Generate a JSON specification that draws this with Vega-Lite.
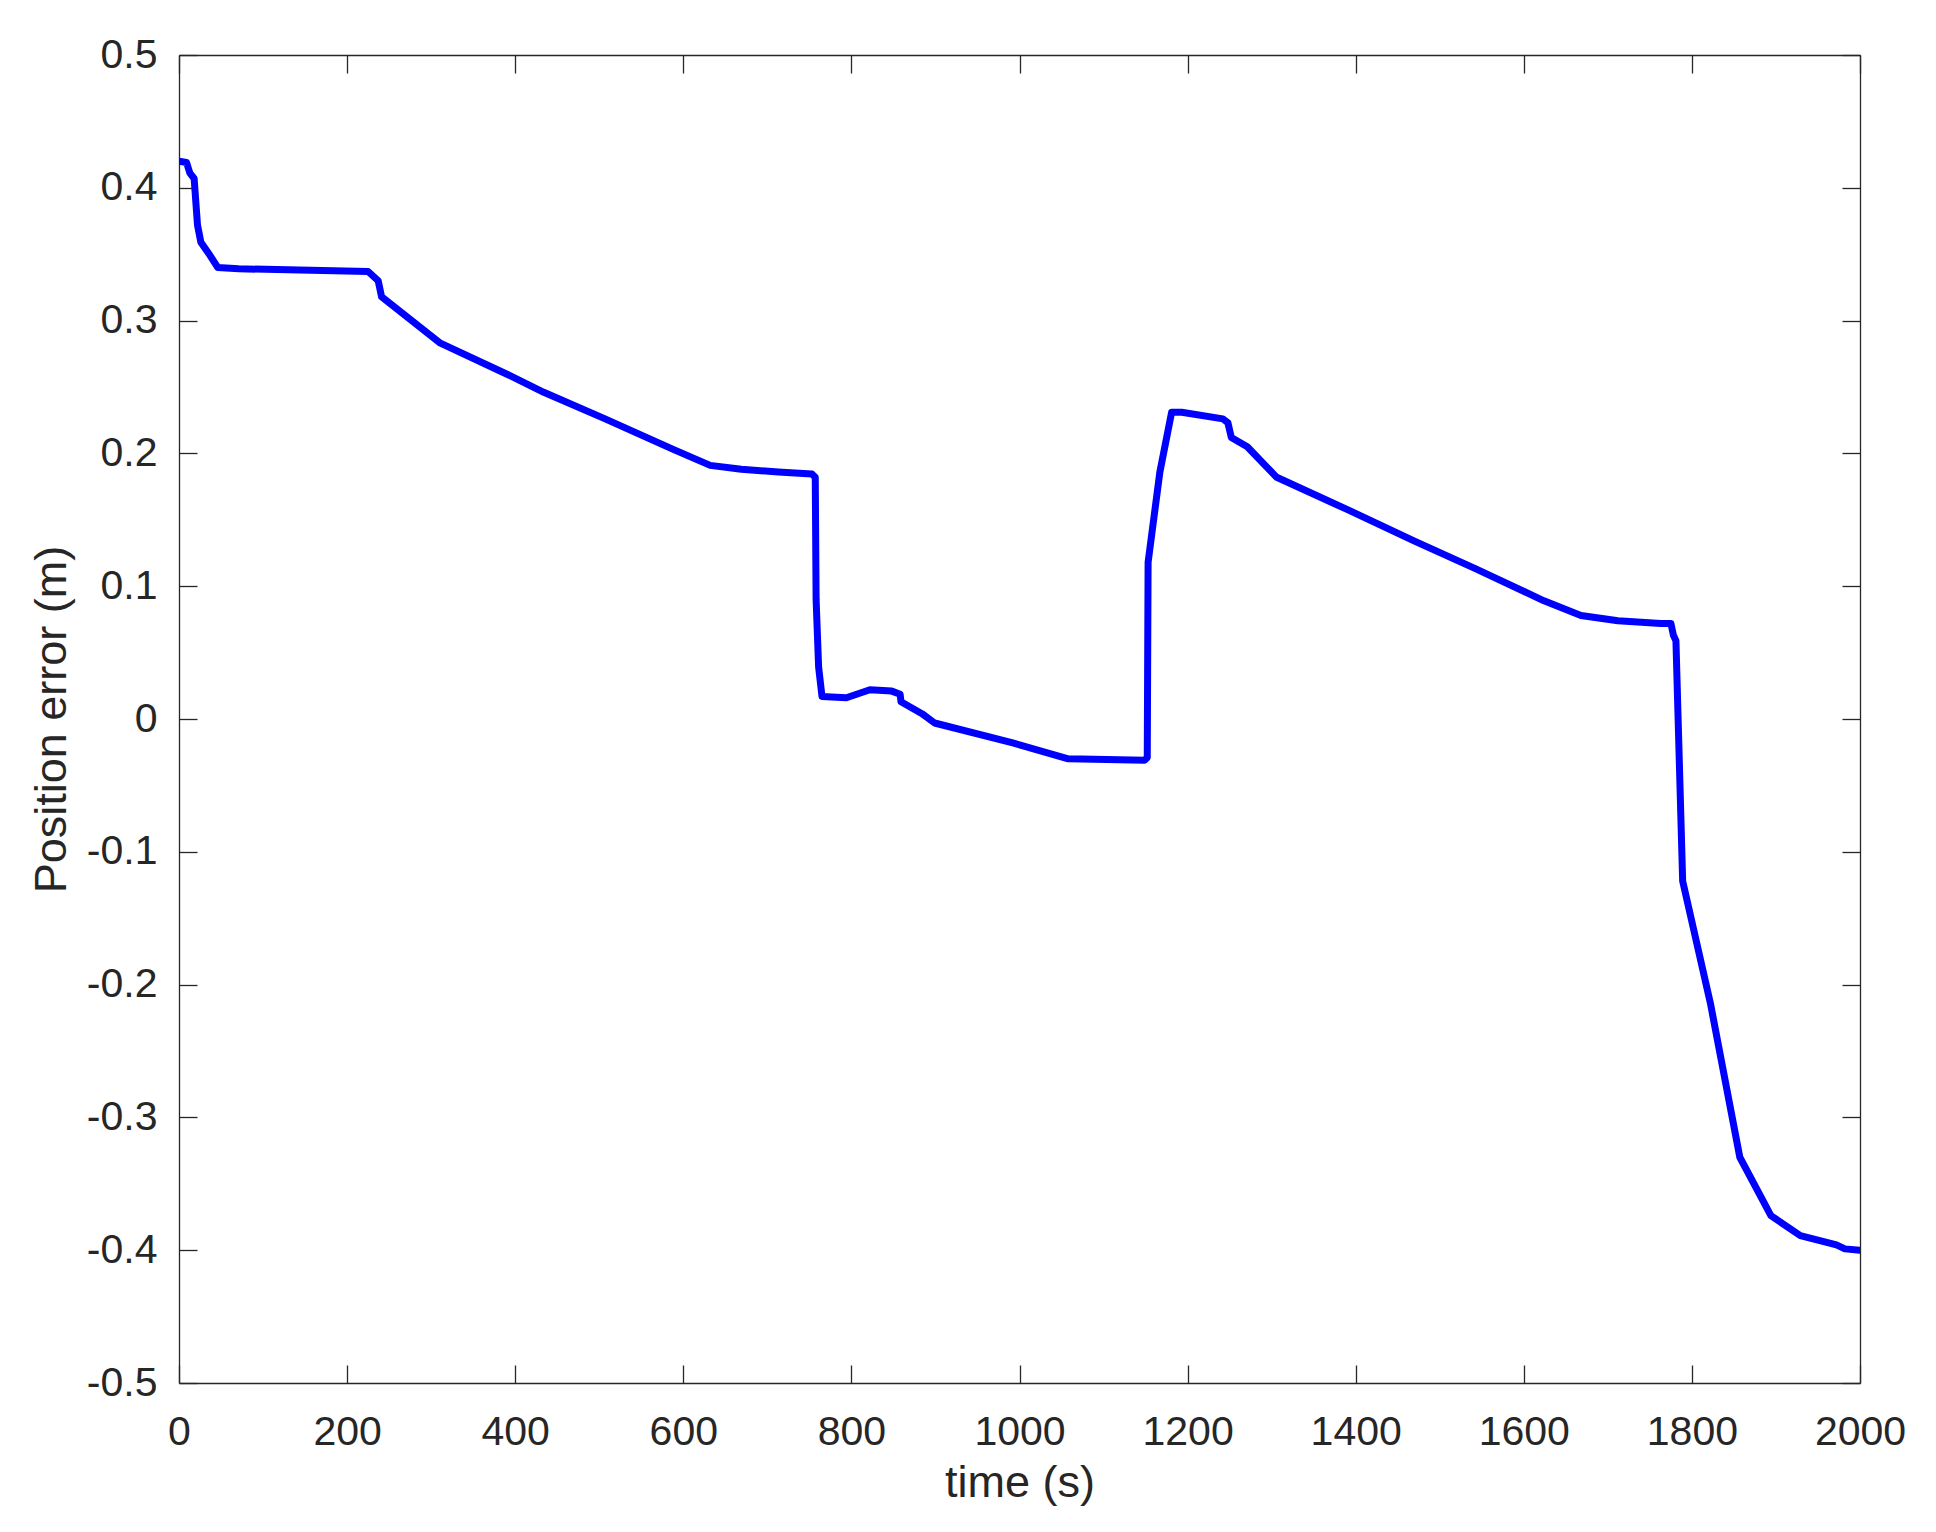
{
  "$schema": "https://vega.github.io/schema/vega-lite/v6.json",
  "width": 1681,
  "height": 1328,
  "autosize": {"type": "none"},
  "padding": {"left": 179, "top": 55, "right": 76, "bottom": 149},
  "background": "white",
  "config": {
    "view": {"stroke": null},
    "font": "Liberation Sans",
    "axis": {
      "domainColor": "#262626",
      "domainWidth": 1.3,
      "tickColor": "#262626",
      "tickWidth": 1.3,
      "tickSize": -18,
      "grid": false,
      "labelFont": "Liberation Sans",
      "labelFontSize": 41,
      "labelColor": "#262626",
      "titleFont": "Liberation Sans",
      "titleFontSize": 45,
      "titleFontWeight": "normal",
      "titleColor": "#262626"
    }
  },
  "data": {
    "values": [
      {"t": 0, "v": 0.420},
      {"t": 9, "v": 0.419},
      {"t": 13, "v": 0.411},
      {"t": 18, "v": 0.407},
      {"t": 22, "v": 0.372},
      {"t": 26, "v": 0.359},
      {"t": 37, "v": 0.349},
      {"t": 46, "v": 0.340},
      {"t": 71, "v": 0.339},
      {"t": 225, "v": 0.337},
      {"t": 237, "v": 0.330},
      {"t": 241, "v": 0.318},
      {"t": 311, "v": 0.283},
      {"t": 389, "v": 0.260},
      {"t": 434, "v": 0.246},
      {"t": 507, "v": 0.226},
      {"t": 588, "v": 0.203},
      {"t": 632, "v": 0.191},
      {"t": 669, "v": 0.188},
      {"t": 713, "v": 0.186},
      {"t": 753, "v": 0.1845},
      {"t": 757, "v": 0.182},
      {"t": 758, "v": 0.090},
      {"t": 761, "v": 0.039},
      {"t": 765, "v": 0.017},
      {"t": 794, "v": 0.016},
      {"t": 822, "v": 0.022},
      {"t": 848, "v": 0.021},
      {"t": 858, "v": 0.0186},
      {"t": 859, "v": 0.013},
      {"t": 884, "v": 0.004},
      {"t": 899, "v": -0.003},
      {"t": 992, "v": -0.018},
      {"t": 1058, "v": -0.030},
      {"t": 1149, "v": -0.031},
      {"t": 1152, "v": -0.029},
      {"t": 1153, "v": 0.118},
      {"t": 1167, "v": 0.186},
      {"t": 1181, "v": 0.231},
      {"t": 1193, "v": 0.231},
      {"t": 1242, "v": 0.226},
      {"t": 1248, "v": 0.223},
      {"t": 1252, "v": 0.212},
      {"t": 1271, "v": 0.205},
      {"t": 1306, "v": 0.182},
      {"t": 1389, "v": 0.158},
      {"t": 1470, "v": 0.134},
      {"t": 1543, "v": 0.113},
      {"t": 1624, "v": 0.089},
      {"t": 1668, "v": 0.078},
      {"t": 1712, "v": 0.074},
      {"t": 1763, "v": 0.072},
      {"t": 1775, "v": 0.072},
      {"t": 1778, "v": 0.063},
      {"t": 1781, "v": 0.059},
      {"t": 1789, "v": -0.122},
      {"t": 1822, "v": -0.214},
      {"t": 1857, "v": -0.330},
      {"t": 1894, "v": -0.374},
      {"t": 1929, "v": -0.389},
      {"t": 1972, "v": -0.396},
      {"t": 1982, "v": -0.399},
      {"t": 2000, "v": -0.400}
    ]
  },
  "layer": [
    {
      "mark": {"type": "line", "color": "#0000FF", "strokeWidth": 7, "strokeJoin": "round", "strokeCap": "round", "clip": true},
      "encoding": {
        "x": {
          "field": "t", "type": "quantitative",
          "scale": {"domain": [0, 2000], "nice": false, "zero": false},
          "axis": {"orient": "bottom", "title": "time (s)", "format": "d", "values": [0,200,400,600,800,1000,1200,1400,1600,1800,2000], "labelPadding": 47, "titlePadding": 8, "labelFlush": false}
        },
        "y": {
          "field": "v", "type": "quantitative",
          "scale": {"domain": [-0.5, 0.5], "nice": false, "zero": false},
          "axis": {"orient": "left", "title": "Position error (m)", "values": [-0.5,-0.4,-0.3,-0.2,-0.1,0,0.1,0.2,0.3,0.4,0.5], "labelPadding": 40, "titlePadding": 12, "labelFlush": false,
            "labelExpr": "datum.value == 0 ? '0' : (datum.value < 0 ? '-' + format(-datum.value, '.1f') : format(datum.value, '.1f'))"}
        }
      }
    },
    {
      "mark": {"type": "line", "strokeOpacity": 0},
      "encoding": {
        "x": {
          "field": "t", "type": "quantitative",
          "scale": {"domain": [0, 2000], "nice": false, "zero": false},
          "axis": {"orient": "top", "title": null, "labels": false, "values": [0,200,400,600,800,1000,1200,1400,1600,1800,2000]}
        },
        "y": {
          "field": "v", "type": "quantitative",
          "scale": {"domain": [-0.5, 0.5], "nice": false, "zero": false},
          "axis": {"orient": "right", "title": null, "labels": false, "values": [-0.5,-0.4,-0.3,-0.2,-0.1,0,0.1,0.2,0.3,0.4,0.5]}
        }
      }
    }
  ],
  "resolve": {"axis": {"x": "independent", "y": "independent"}}
}
